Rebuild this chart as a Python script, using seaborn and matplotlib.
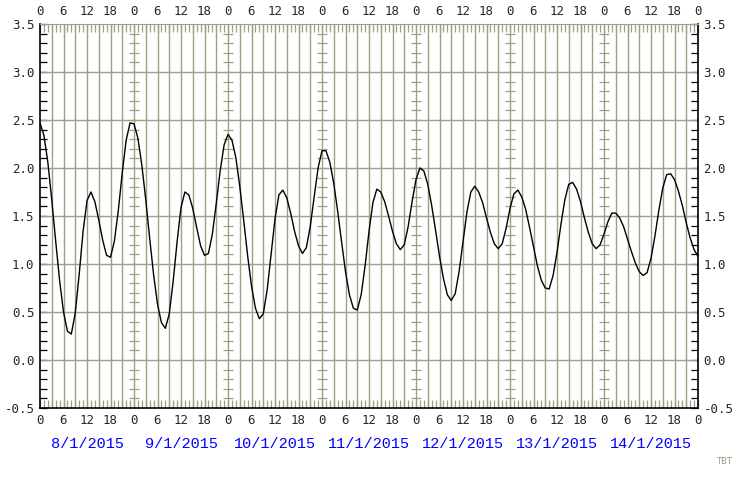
import numpy as np
import pandas as pd
import matplotlib
matplotlib.use("Agg")
import matplotlib.pyplot as plt
import seaborn as sns

# hourly values, 8/1/2015 00:00 .. 15/1/2015 00:00
hours = list(range(169))
level = [
    2.47, 2.34, 2.06, 1.67, 1.24, 0.83, 0.50, 0.30, 0.27, 0.49, 0.89, 1.34,
    1.66, 1.75, 1.65, 1.46, 1.25, 1.09, 1.07, 1.24, 1.56, 1.95, 2.29, 2.47,
    2.46, 2.31, 2.03, 1.67, 1.27, 0.89, 0.58, 0.39, 0.33, 0.48, 0.82, 1.23,
    1.59, 1.75, 1.72, 1.58, 1.38, 1.19, 1.09, 1.11, 1.31, 1.63, 1.97, 2.24,
    2.35, 2.29, 2.11, 1.81, 1.46, 1.09, 0.77, 0.54, 0.43, 0.48, 0.73, 1.10,
    1.47, 1.72, 1.77, 1.69, 1.53, 1.34, 1.19, 1.11, 1.17, 1.39, 1.70, 2.00,
    2.18, 2.18, 2.06, 1.84, 1.55, 1.23, 0.92, 0.68, 0.54, 0.52, 0.68, 0.98,
    1.34, 1.64, 1.78, 1.75, 1.65, 1.50, 1.34, 1.21, 1.15, 1.20, 1.39, 1.65,
    1.88, 2.00, 1.97, 1.83, 1.61, 1.35, 1.08, 0.85, 0.68, 0.62, 0.69, 0.92,
    1.23, 1.54, 1.75, 1.81, 1.75, 1.64, 1.48, 1.33, 1.21, 1.16, 1.21, 1.37,
    1.58, 1.73, 1.77, 1.70, 1.57, 1.38, 1.18, 0.98, 0.83, 0.75, 0.74, 0.88,
    1.12, 1.41, 1.67, 1.83, 1.85, 1.78, 1.65, 1.48, 1.33, 1.21, 1.16, 1.20,
    1.31, 1.44, 1.53, 1.53, 1.48, 1.39, 1.26, 1.13, 1.01, 0.92, 0.88, 0.91,
    1.06, 1.29, 1.56, 1.79, 1.93, 1.94, 1.88, 1.76, 1.61, 1.43, 1.27, 1.15,
    1.08,
]
days = ["8/1/2015", "9/1/2015", "10/1/2015", "11/1/2015",
        "12/1/2015", "13/1/2015", "14/1/2015"]
yticks = [-0.5, 0.0, 0.5, 1.0, 1.5, 2.0, 2.5, 3.0, 3.5]

grid_c = "#a09f83"
mono = "DejaVu Sans Mono"

sns.set_style("white")
df = pd.DataFrame({"hour": hours, "level": level})

fig = plt.figure(figsize=(7.4, 4.8), dpi=100)
ax = fig.add_axes([40 / 740, 1 - 408 / 480, 658 / 740, 384 / 480])

# grid: every 3 h and every 0.5
for h in range(3, 168, 3):
    ax.axvline(h, color=grid_c, lw=1.0, zorder=1)
for y in yticks[1:-1]:
    ax.axhline(y, color=grid_c, lw=1.0, zorder=1)

# little 0.1 marks on the midnight lines
mid = np.arange(24, 168, 24)
ymarks = np.round(np.arange(-0.4, 3.5, 0.1), 1)
for m in mid:
    ax.plot([m] * len(ymarks), ymarks, ls="none", marker="_", ms=7,
            mew=0.9, color=grid_c, zorder=1)

sns.lineplot(data=df, x="hour", y="level", color="black", lw=1.0, ax=ax,
             zorder=3)

ax.set_xlim(0, 168)
ax.set_ylim(-0.5, 3.5)
ax.set_xlabel("")
ax.set_ylabel("")

for side in ["left", "right", "bottom"]:
    ax.spines[side].set_color("black")
    ax.spines[side].set_linewidth(1.2)
    ax.spines[side].set_visible(True)
ax.spines["top"].set_color(grid_c)
ax.spines["top"].set_visible(True)

xt = list(range(0, 169, 6))
xl = [str(h % 24) for h in xt]
ax.set_xticks(xt)
ax.set_xticklabels(xl)
ax.set_xticks(range(0, 169, 1), minor=True)
ax.tick_params(axis="x", which="both", direction="in", top=True, bottom=True,
               labeltop=True, labelbottom=True, color=grid_c, length=6,
               width=0.9, labelsize=9, pad=4)

ax.set_yticks(yticks)
ax.set_yticklabels([f"{v:.1f}" for v in yticks])
ax.set_yticks(ymarks, minor=True)
ax.tick_params(axis="y", which="both", direction="in", left=True, right=True,
               labelleft=True, labelright=True, color="black", length=5,
               width=0.9, labelsize=9, pad=4)
for lab in ax.get_xticklabels() + ax.get_yticklabels():
    lab.set_family(mono)

for i, d in enumerate(days):
    ax.text(i * 24 + 12, -0.88, d, ha="center", va="center", color="#0000ff",
            fontsize=11, family="Liberation Mono", clip_on=False)
fig.text(716 / 740, 1 - 462 / 480, "TBT", color="#9a9a80", fontsize=6,
         ha="left", va="center")

fig.savefig("out.png", dpi=100)
